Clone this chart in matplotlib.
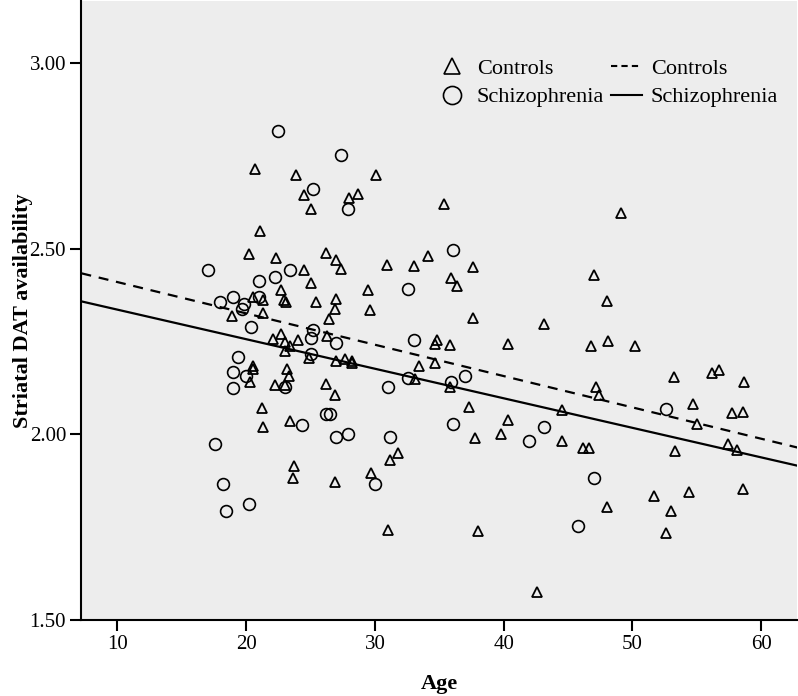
import numpy as np
import matplotlib
matplotlib.use('Agg')
from matplotlib import pyplot as plt
from matplotlib.lines import Line2D

plt.rcParams['font.family'] = ['Liberation Serif', 'DejaVu Serif']

# Controls (triangles): age, striatal DAT availability
ctrl_age = [20.7, 23.9, 24.5, 28.0, 25.0, 21.1, 20.2, 22.3, 26.2, 27.0, 27.4, 24.5, 25.0, 22.7,
            20.5, 21.3, 22.9, 23.1, 25.4, 27.0, 26.9, 18.9, 21.3, 26.4, 22.1, 22.7, 23.0, 23.4,
            24.0, 26.3, 30.1, 28.7, 35.4, 30.9, 33.0, 34.1, 37.6, 35.9, 36.4, 29.5, 29.6, 37.6,
            43.1, 34.8, 34.7, 35.8, 40.3, 49.1, 47.0, 48.0, 46.8, 48.1, 50.2, 23.0, 24.9, 27.0,
            27.7, 20.5, 20.5, 20.3, 23.2, 23.3, 22.2, 23.0, 26.2, 26.9, 21.2, 21.3, 23.4, 23.7,
            23.6, 26.9, 28.2, 28.2, 33.4, 34.7, 33.1, 35.8, 37.3, 40.3, 39.8, 37.8, 44.5, 31.8,
            31.2, 29.7, 31.0, 38.0, 42.6, 44.5, 53.2, 56.2, 56.7, 58.7, 47.2, 47.4, 54.7, 55.0,
            57.7, 58.6, 46.2, 46.6, 53.3, 57.4, 58.1, 48.0, 51.7, 54.4, 58.6, 53.0, 52.6]
ctrl_dat = [2.715, 2.697, 2.643, 2.637, 2.605, 2.548, 2.486, 2.475, 2.487, 2.468, 2.446, 2.443,
            2.408, 2.389, 2.370, 2.361, 2.361, 2.356, 2.355, 2.364, 2.336, 2.319, 2.327, 2.311,
            2.256, 2.270, 2.249, 2.239, 2.254, 2.264, 2.699, 2.646, 2.621, 2.455, 2.454, 2.479,
            2.449, 2.421, 2.398, 2.389, 2.335, 2.312, 2.297, 2.253, 2.244, 2.241, 2.243, 2.596,
            2.428, 2.358, 2.239, 2.250, 2.237, 2.223, 2.206, 2.198, 2.204, 2.184, 2.177, 2.142,
            2.177, 2.156, 2.132, 2.133, 2.136, 2.105, 2.071, 2.021, 2.036, 1.915, 1.882, 1.873,
            2.196, 2.192, 2.185, 2.192, 2.148, 2.127, 2.074, 2.038, 2.002, 1.991, 1.983, 1.949,
            1.931, 1.897, 1.743, 1.741, 1.575, 2.066, 2.155, 2.165, 2.174, 2.142, 2.127, 2.106,
            2.082, 2.027, 2.057, 2.061, 1.964, 1.964, 1.954, 1.974, 1.958, 1.805, 1.835, 1.845,
            1.854, 1.793, 1.735]

# Schizophrenia (circles)
scz_age = [22.5, 27.4, 25.2, 27.9, 17.0, 23.4, 22.2, 21.0, 19.0, 21.0, 18.0, 19.8, 19.7, 20.4,
           25.2, 25.0, 27.0, 36.1, 32.6, 33.0, 25.0, 19.4, 19.0, 20.0, 19.0, 23.0, 24.3, 26.2,
           26.5, 27.0, 27.9, 17.6, 18.2, 20.2, 18.4, 37.0, 32.6, 35.9, 31.0, 36.1, 43.1, 42.0,
           31.2, 30.0, 45.8, 52.6, 47.0]
scz_dat = [2.815, 2.751, 2.661, 2.605, 2.442, 2.442, 2.423, 2.412, 2.369, 2.370, 2.355, 2.350,
           2.337, 2.288, 2.282, 2.258, 2.247, 2.495, 2.392, 2.253, 2.217, 2.207, 2.168, 2.157,
           2.125, 2.127, 2.024, 2.055, 2.055, 1.994, 2.000, 1.974, 1.865, 1.812, 1.793, 2.158,
           2.152, 2.140, 2.127, 2.029, 2.020, 1.982, 1.994, 1.867, 1.754, 2.069, 1.882]

# fit lines: intercept, slope
ctrl_fit = (2.494, -0.00843)
scz_fit = (2.415, -0.00795)

x_min, x_max = 7.2, 62.8
y_min, y_max = 1.50, 3.165

fig = plt.figure(figsize=(7.98, 6.96), dpi=100)
ax = fig.add_axes([0.102, 0.109, 0.897, 0.889])
ax.set_facecolor('#ededed')

ax.plot(ctrl_age, ctrl_dat, linestyle='none', marker='^', ms=7, mfc='none', mec='black', mew=1.3)
ax.plot(scz_age, scz_dat, linestyle='none', marker='o', ms=8.5, mfc='none', mec='black', mew=1.2)

xs = np.array([x_min, x_max])
ax.plot(xs, ctrl_fit[0] + ctrl_fit[1] * xs, color='black', lw=1.6, linestyle=(0, (4.5, 3.5)))
ax.plot(xs, scz_fit[0] + scz_fit[1] * xs, color='black', lw=1.6)

ax.set_xlim(x_min, x_max)
ax.set_ylim(y_min, y_max)
ax.set_xticks([10, 20, 30, 40, 50, 60])
ax.set_yticks([1.5, 2.0, 2.5, 3.0])
ax.set_yticklabels(['1.50', '2.00', '2.50', '3.00'])
ax.tick_params(direction='out', length=8, width=1.5, labelsize=15, pad=3)
ax.spines['top'].set_visible(False)
ax.spines['right'].set_visible(False)
for s in ['left', 'bottom']:
    ax.spines[s].set_linewidth(1.5)

ax.set_xlabel('Age', fontsize=16, fontweight='bold', labelpad=14)
ax.set_ylabel('Striatal DAT availability', fontsize=16, fontweight='bold')
ax.yaxis.set_label_coords(-0.068, 0.5)

handles = [
    Line2D([], [], linestyle='none', marker='^', ms=11, mfc='none', mec='black', mew=1.2),
    Line2D([], [], linestyle='none', marker='o', ms=13, mfc='none', mec='black', mew=1.2),
    Line2D([], [], color='black', lw=1.5, linestyle=(0, (3, 2))),
    Line2D([], [], color='black', lw=1.5),
]
labels = ['Controls', 'Schizophrenia', 'Controls', 'Schizophrenia']
ax.legend(handles, labels, ncol=2, loc='upper right', bbox_to_anchor=(0.986, 0.922),
          frameon=False, fontsize=16, handlelength=1.4, handletextpad=0.4,
          columnspacing=0.3, labelspacing=0.35, borderaxespad=0)

fig.savefig('out.png', dpi=100)
